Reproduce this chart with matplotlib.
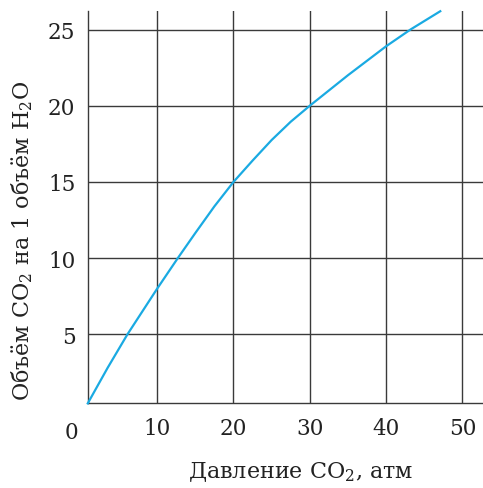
import matplotlib
matplotlib.use("Agg")
import matplotlib.pyplot as plt

# Data
pressure = [0.9, 3.5, 6.1, 10, 12.7, 15, 17.5, 20, 22.5, 25, 27.5, 30, 32.5, 35, 37.5, 40, 43.2, 47.1]
volume = [0.47, 2.8, 5.0, 8.0, 10.0, 11.65, 13.4, 15.0, 16.4, 17.75, 18.95, 20.0, 21.0, 22.0, 22.95, 23.9, 25.0, 26.2]
x_ticks = [10, 20, 30, 40, 50]
y_ticks = [5, 10, 15, 20, 25]

plt.rcParams['font.family'] = ['DejaVu Serif']
plt.rcParams['mathtext.fontset'] = 'dejavuserif'

W, H = 483, 489
fig = plt.figure(figsize=(W / 100, H / 100), dpi=100)
ax = fig.add_axes([0.182, 0.173, 0.818, 0.802])

grid_c = '#3a3a3a'
for v in x_ticks:
    ax.axvline(v, color=grid_c, lw=1.0, zorder=1)
for v in y_ticks:
    ax.axhline(v, color=grid_c, lw=1.0, zorder=1)

ax.plot(pressure, volume, color='#1aaae2', lw=1.6, zorder=3, clip_on=False)

ax.set_xlim(0.92, 52.7)
ax.set_ylim(0.47, 26.2)
ax.set_xticks(x_ticks)
ax.set_yticks(y_ticks)
fs = 15.5
ax.tick_params(length=0, labelsize=fs, colors='#222222', pad=10)
ax.tick_params(axis='y', pad=9)
for s in ['top', 'right']:
    ax.spines[s].set_visible(False)
for s in ['left', 'bottom']:
    ax.spines[s].set_color(grid_c)
    ax.spines[s].set_linewidth(1.0)

ax.text(-0.025, -0.045, '0', transform=ax.transAxes, ha='right', va='top',
        fontsize=fs, color='#222222')

fig.text(301 / W, 1 - 472 / H, 'Давление CO$_2$, атм', fontsize=16, color='#222222',
         ha='center', va='center')
fig.text(22 / W, 1 - 241 / H, 'Объём CO$_2$ на 1 объём H$_2$O', fontsize=16, color='#222222',
         ha='center', va='center', rotation=90)

fig.savefig('out.png', dpi=100)
